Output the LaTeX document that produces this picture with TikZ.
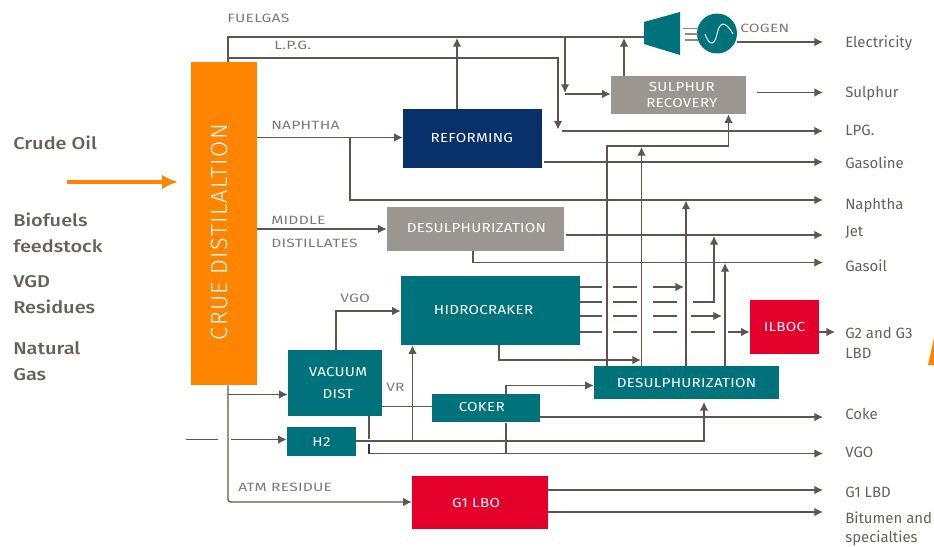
\documentclass[tikz,border=0pt]{standalone}
\usepackage{fontspec}
\setmainfont{Fira Sans}
\newfontfamily\crudefont[LetterSpace=6]{Fira Sans Light}
\newfontfamily\techfont[FakeStretch=1.16,LetterSpace=2]{Fira Sans}
\newfontfamily\tagfont[FakeStretch=1.3,LetterSpace=2]{Fira Sans}
\newfontfamily\feedfont[FakeStretch=1.17]{Fira Sans Medium}
\usetikzlibrary{arrows.meta}
\definecolor{flowc}{HTML}{5F554D}
\definecolor{labelc}{HTML}{6A6058}
\definecolor{tagc}{HTML}{7A7A78}
\definecolor{orangec}{HTML}{FF8400}
\definecolor{tealc}{HTML}{00727C}
\definecolor{navyc}{HTML}{08306B}
\definecolor{greyc}{HTML}{9B9690}
\definecolor{redc}{HTML}{E4002B}
\newcommand\nudged[3]{\kern-#1\raisebox{#2}{#3}\kern#1\relax}
\tikzset{
  flow/.style={draw=flowc,line width=1pt,-{Latex[length=6.5pt,width=6.5pt]}},
  pipe/.style={draw=flowc,line width=1pt},
  unit/.style 2 args={rectangle,inner sep=0pt,minimum width=#1*0.75pt,minimum height=#2*0.75pt,
    text=white,align=center,font=\techfont\fontsize{9.8pt}{13.5pt}\selectfont},
  tag/.style={text=tagc,anchor=west,inner sep=0pt,font=\tagfont\fontsize{9pt}{10pt}\selectfont},
  product/.style={text=labelc,anchor=west,inner sep=0pt,align=left,font=\fontsize{11.2pt}{14.5pt}\selectfont},
  feed/.style={text=labelc,anchor=west,inner sep=0pt,align=left,font=\feedfont\fontsize{12.8pt}{19.4pt}\selectfont},
}
\begin{document}
\begin{tikzpicture}[x=0.75pt,y=-0.75pt]
\useasboundingbox (0,0) rectangle (934,546);
% units
\node[unit={66}{323},fill=orangec] (crude) at (224,223.5) {};
\node[text=white,inner sep=0pt,rotate=90,font=\crudefont\fontsize{17.5pt}{20pt}\selectfont] (crudetext) at (220,232) {CRUE DISTILALTION};
\node[unit={139}{59},fill=navyc] (reform) at (472.5,138.5) {\nudged{0.5pt}{0.7pt}{REFORMING}};
\node[unit={135}{38},fill=greyc] (sulphur) at (678.5,95) {\nudged{-2.5pt}{-1pt}{SULPHUR}\\[-1pt]\nudged{-2.5pt}{-1pt}{RECOVERY}};
\node[unit={177}{44},fill=greyc] (desgrey) at (475.5,229) {\nudged{-0.7pt}{1.5pt}{DESULPHURIZATION}};
\node[unit={179}{69},fill=tealc] (hidro) at (490.5,310.5) {\nudged{5.2pt}{0.7pt}{HIDROCRAKER}};
\node[unit={94}{66},fill=tealc] (vacuum) at (335,383) {\nudged{-2.2pt}{0.5pt}{VACUUM}\\[3pt]\nudged{-2.2pt}{0.5pt}{DIST}};
\node[unit={69}{29},fill=tealc] (htwo) at (321.5,441.5) {H2};
\node[unit={108}{28},fill=tealc] (coker) at (486,408) {\nudged{3.2pt}{1.2pt}{COKER}};
\node[unit={136}{53},fill=redc] (gone) at (480,502.5) {\nudged{3pt}{-0.5pt}{G1 LBO}};
\node[unit={185}{33},fill=tealc] (desteal) at (686.5,382.5) {DESULPHURIZATION};
\node[unit={69}{54},fill=redc] (ilboc) at (784.5,327) {ILBOC};
% cogeneration
\fill[tealc] (644,22) -- (680,12) -- (680,55) -- (644,44) -- cycle;
\coordinate (turbine) at (644,37);
\node[circle,fill=tealc,minimum size=40*0.75pt,inner sep=0pt] (gen) at (717,33.5) {};
\draw[white!85!tealc,line width=0.8pt] (705,34) .. controls (710,48) and (715,44) .. (717,34) .. controls (719,24) and (724,18) .. (733,34);
\draw[flowc!70!white,line width=0.8pt] (683,28.5) -- (698,28.5) (685,34) -- (698,34) (685,40) -- (698,40);
\node[tag,text=labelc!85!white] (cogen) at (740,28) {COGEN};
% feed labels
\node[feed] (lcrude) at (13,142.5) {Crude Oil};
\node[feed] (lbio) at (13,233) {Biofuels\\feedstock};
\node[feed] (lvgd) at (13,294.5) {VGD\\Residues};
\node[feed] (lgas) at (13,361.5) {Natural\\Gas};
\coordinate (oa) at (67,182); \coordinate (ob) at (178,182);
\draw[orangec,line width=2.6pt,-{Latex[length=12pt,width=11pt]}] (oa) -- (ob);
\fill[orangec] (928,365) -- (934,365) -- (934,338) -- cycle;
% stream tags
\node[tag] (tfuel) at (227,18) {FUELGAS};
\node[tag] (tlpg) at (274,45.5) {L.P.G.};
\node[tag] (tnaph) at (271,125) {NAPHTHA};
\node[tag] (tmid) at (271,220) {MIDDLE};
\node[tag] (tdist) at (271,243) {DISTILLATES};
\node[tag] (tvgo) at (340,298) {VGO};
\node[tag] (tvr) at (386,387) {VR};
\node[tag] (tatm) at (238,487) {ATM RESIDUE};
% product labels
\node[product] (pelec) at (845,43) {Electricity};
\node[product] (psul) at (845,93) {Sulphur};
\node[product] (plpg) at (845,130.5) {LPG.};
\node[product] (pgas) at (845,162.5) {Gasoline};
\node[product] (pnaph) at (845,205.5) {Naphtha};
\node[product] (pjet) at (845,232.5) {Jet};
\node[product] (pgasoil) at (845,265.5) {Gasoil};
\node[product] (pg2) at (845,343) {G2 and G3\\LBD};
\node[product] (pcoke) at (845,414) {Coke};
\node[product] (pvgo) at (845,452) {VGO};
\node[product] (pg1) at (845,492.5) {G1 LBD};
\node[product] (pbit) at (845,528.5) {Bitumen and\\specialties};
% free ends of the product lines
\foreach \n/\y in {eelec/42,esul/92.5,elpg/131,egas/162,enaph/200,ejet/235,egasoil/262.5,ecoke/417,evgo/453.5,egone/490,ebit/512}
  {\coordinate (\n) at (823,\y);}
% top rails
\draw[pipe] (crude.north -| 228,0) -- (228,37) -- (turbine);
\draw[flow] (228,58) -- (558,58) -- (558,129.5);
\draw[flow] (562,131) -- (elpg);
\draw[flow] (565,37) -- (565,93);
\draw[flow] (565,94) -- (sulphur.west |- 0,94);
\draw[flow] (reform.north -| 457,0) -- (457,38);
\draw[flow] (sulphur.north -| 624,0) -- (624,38);
\draw[flow] (gen.east |- 0,42) -- (eelec);
\draw[flow] (757,92.5) -- (esul);
\draw[flow] (544,162) -- (egas);
\draw[flow] (crude.east |- 0,137.5) -- (reform.west |- 0,137.5);
\draw[flow] (350,137.5) -- (350,200) -- (enaph);
\draw[flow] (crude.east |- 0,229) -- (desgrey.west |- 0,229);
\draw[flow] (566,235) -- (ejet);
\draw[flow] (desgrey.south -| 473,0) -- (473,262.5) -- (egasoil);
\draw[flow] (vacuum.north -| 336,0) -- (336,311) -- (hidro.west |- 0,311);
\draw[flow] (hidro.south -| 499,0) -- (499,360) -- (641,360);
% hydrocracker outlets, broken where they pass the risers
\draw[pipe] (hidro.east |- 0,287) -- (602,287) (613,287) -- (637,287);
\draw[flow] (653,287) -- (684,287);
\draw[pipe] (hidro.east |- 0,302) -- (602,302) (613,302) -- (637,302) (653,302) -- (677,302);
\draw[flow] (693,302) -- (714,302) -- (714,236);
\draw[pipe] (hidro.east |- 0,316) -- (602,316) (613,316) -- (637,316) (653,316) -- (677,316);
\draw[flow] (691,316) -- (722,316);
\draw[pipe] (hidro.east |- 0,332) -- (602,332) (613,332) -- (637,332) (653,332) -- (677,332) (691,332) -- (715,332);
\draw[flow] (728,332) -- (ilboc.west |- 0,332);
% risers from the teal desulphurization
\draw[flow] (desteal.north -| 607,0) -- (607,146) -- (728.5,146) -- (sulphur.south -| 728.5,0);
\draw[flow] (desteal.north -| 641.5,0) -- (641.5,147);
\draw[flow] (desteal.north -| 686,0) -- (686,200.5);
\draw[flow] (desteal.north -| 725,0) -- (725,263);
\draw[flow] (ilboc.east |- 0,332) -- (835,332);
% lower part
\draw[flow,rounded corners=2pt] (crude.south -| 228,0) -- (228,502) -- (gone.west |- 0,502);
\draw[flow] (228,394.5) -- (vacuum.west |- 0,394.5);
\coordinate (hin) at (186,439.5);
\draw[pipe] (hin) -- (218,439.5);
\draw[flow] (231,439.5) -- (htwo.west |- 0,439.5);
\draw[pipe] (vacuum.east |- 0,406.5) -- (coker.west |- 0,406.5);
\draw[flow] (412.5,441) -- (hidro.south -| 412.5,0);
\draw[flow] (htwo.east |- 0,441) -- (704,441) -- (704,402);
\draw[pipe] (vacuum.south -| 369,0) -- (369,439);
\draw[pipe,draw=navyc!80!flowc] (369,444) -- (369,453.5);
\draw[flow] (369,453.5) -- (evgo);
\draw[pipe] (506,423) -- (506,453.5);
\draw[flow] (coker.north -| 506,0) -- (506,385.5) -- (desteal.west |- 0,385.5);
\draw[flow] (coker.east |- 0,417) -- (ecoke);
\draw[flow] (gone.east |- 0,490) -- (egone);
\draw[flow] (gone.east |- 0,512) -- (ebit);
\end{tikzpicture}
\end{document}
